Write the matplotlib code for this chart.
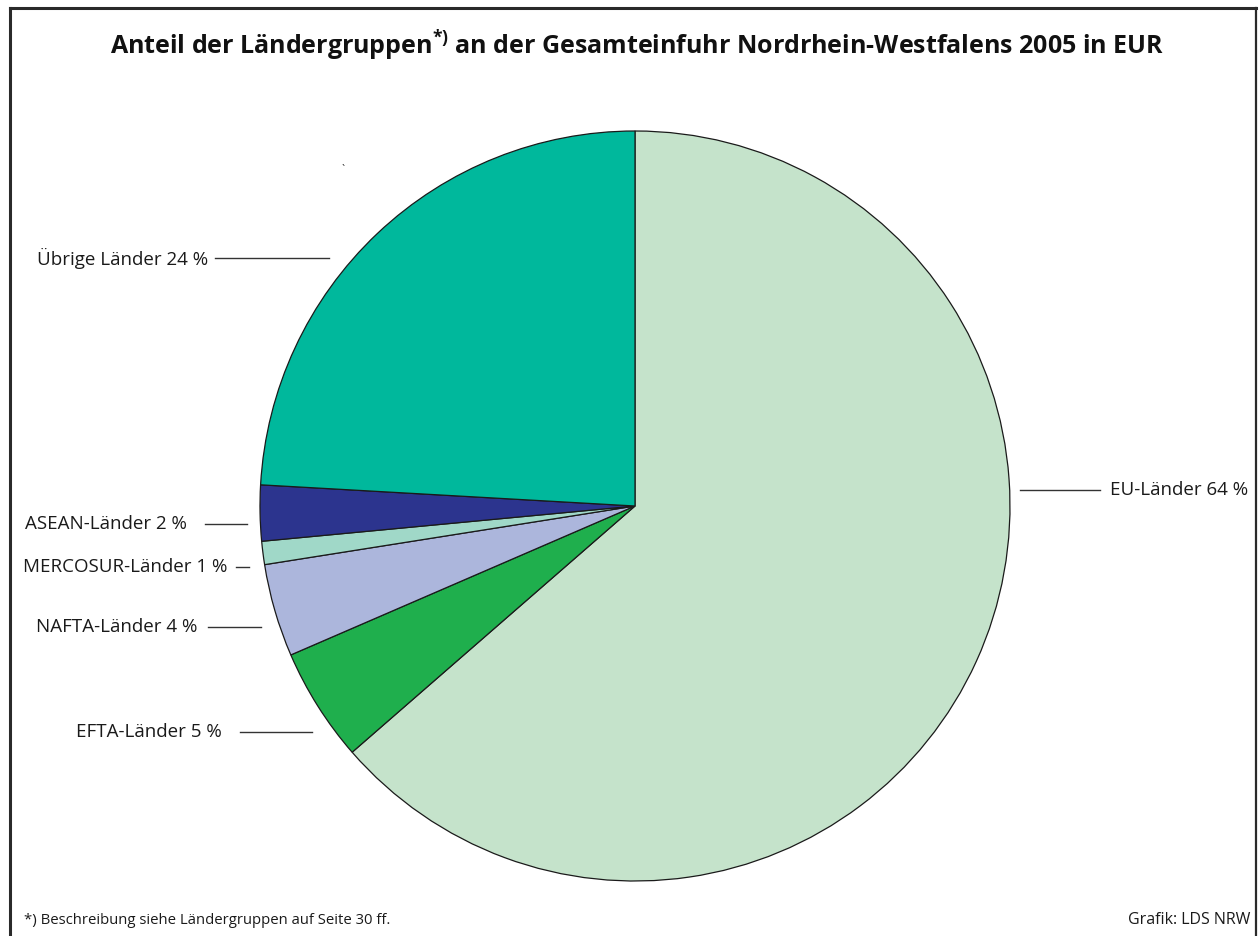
import matplotlib

matplotlib.use("Agg")

import matplotlib.pyplot as plt
from matplotlib.lines import Line2D

plt.rcParams["font.family"] = ["Open Sans", "DejaVu Sans"]
plt.rcParams["mathtext.fontset"] = "custom"
plt.rcParams["mathtext.bf"] = "Open Sans:bold"
plt.rcParams["mathtext.rm"] = "Open Sans"

groups = ["EU-Länder", "EFTA-Länder", "NAFTA-Länder", "MERCOSUR-Länder", "ASEAN-Länder", "Übrige Länder"]
shares = [63.6, 4.9, 4.0, 1.0, 2.4, 24.1]
colors = ["#c5e3cb", "#1faf4d", "#acb6dc", "#a0d8c8", "#2c348e", "#00b89c"]

W, H = 1259, 936
fig = plt.figure(figsize=(W / 100, H / 100), dpi=100)


def fx(px):
    return px / W


def fy(py):
    return 1 - py / H


# Kreis: Mitte (635, 506), Radius 375 px
cx, cy, r = 635, 506, 375
ax = fig.add_axes([fx(cx - r), fy(cy + r), 2 * r / W, 2 * r / H])
ax.pie(
    shares,
    colors=colors,
    startangle=90,
    counterclock=False,
    radius=1,
    wedgeprops={"edgecolor": "#1a1a1a", "linewidth": 0.9},
)
ax.set_xlim(-1, 1)
ax.set_ylim(-1, 1)
ax.set_aspect("auto")
ax.axis("off")

# Beschriftungen: (Text x, Text y, Ausrichtung, Linie von, Linie bis)
label_layout = [
    (1110, 490, "left", 1020, 1100),
    (222, 732, "right", 240, 312),
    (197, 627, "right", 208, 261),
    (227, 567, "right", 236, 249),
    (187, 524, "right", 205, 247),
    (208, 258, "right", 215, 329),
]
for name, val, (tx, ty, ha, x0, x1) in zip(groups, shares, label_layout):
    fig.text(fx(tx), fy(ty), f"{name} {round(val)} %", ha=ha, va="center",
             fontsize=13.5, color="#1a1a1a")
    fig.add_artist(Line2D([fx(x0), fx(x1)], [fy(ty), fy(ty)], color="#333333", linewidth=1.0))

fig.text(fx(343), fy(170), "`", ha="center", va="center", fontsize=8, color="#333333")

# Titel
fig.text(fx(637), fy(46),
         r"Anteil der Ländergruppen$^{\mathbf{*)}}$ an der Gesamteinfuhr Nordrhein-Westfalens 2005 in EUR",
         ha="center", va="center", fontsize=18, fontweight="bold", color="#111111")

# Fußzeile
fig.text(fx(24), fy(920), "*) Beschreibung siehe Ländergruppen auf Seite 30 ff.",
         ha="left", va="center", fontsize=10.7, color="#1a1a1a")
fig.text(fx(1250), fy(920), "Grafik: LDS NRW", ha="right", va="center", fontsize=11.5, color="#1a1a1a")

# Rahmen (ohne unteren Rand)
frame = dict(color="#2a2a2a", linewidth=2.2, solid_capstyle="projecting")
fig.add_artist(Line2D([fx(10), fx(10)], [fy(8), 0], **frame))
fig.add_artist(Line2D([fx(10), fx(1256)], [fy(8), fy(8)], **frame))
fig.add_artist(Line2D([fx(1256), fx(1256)], [fy(8), 0], color="#2a2a2a", linewidth=1.6))

fig.savefig("out.png", dpi=100)
plt.close(fig)
